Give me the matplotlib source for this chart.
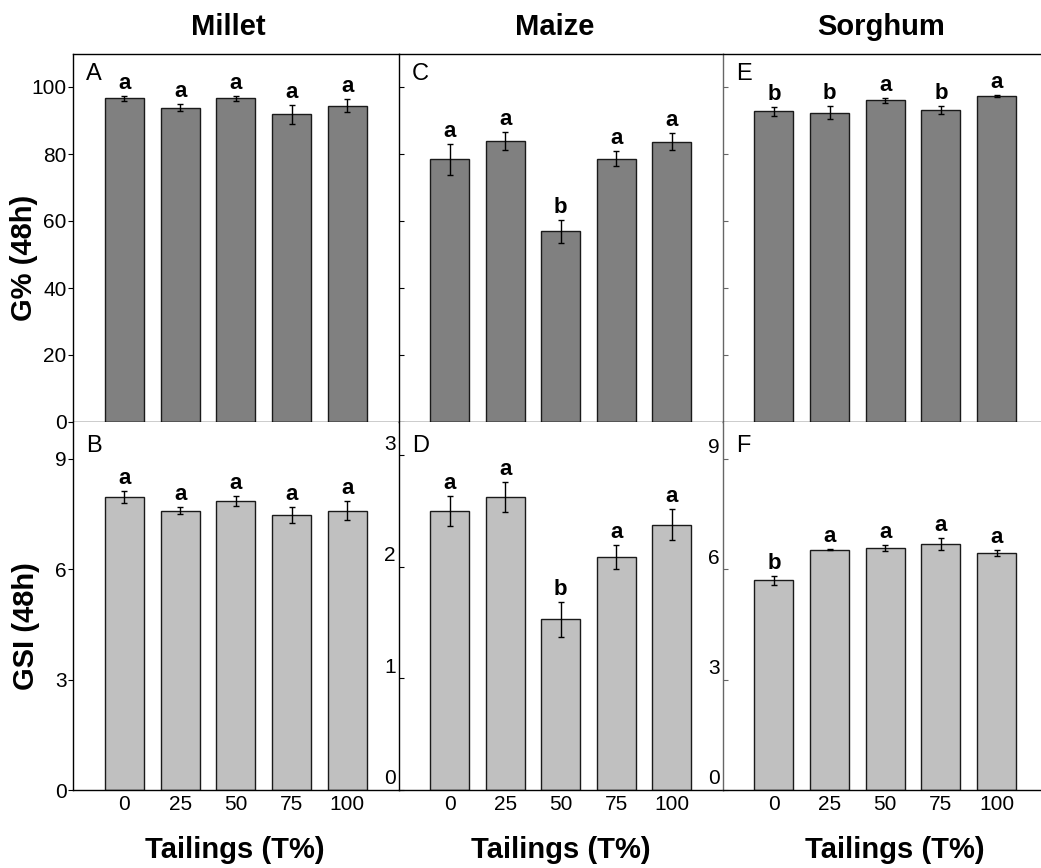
import matplotlib
matplotlib.use("Agg")
import matplotlib.pyplot as plt
from matplotlib.transforms import ScaledTranslation

plt.rcParams['font.family'] = ['Liberation Sans', 'DejaVu Sans']

# ---------------- data ----------------
tailings = ['0', '25', '50', '75', '100']
crops = ['Millet', 'Maize', 'Sorghum']
panel_letters_top = ['A', 'C', 'E']
panel_letters_bot = ['B', 'D', 'F']

g_millet = [96.6, 93.8, 96.6, 91.9, 94.4]
g_millet_err = [0.7, 1.0, 0.7, 2.8, 1.9]
g_millet_sig = ['a', 'a', 'a', 'a', 'a']

g_maize = [78.4, 84.0, 56.9, 78.6, 83.7]
g_maize_err = [4.7, 2.7, 3.5, 2.3, 2.6]
g_maize_sig = ['a', 'a', 'b', 'a', 'a']

g_sorghum = [92.8, 92.3, 96.0, 93.2, 97.3]
g_sorghum_err = [1.35, 1.9, 0.8, 1.2, 0.3]
g_sorghum_sig = ['b', 'b', 'a', 'b', 'a']

gsi_millet = [7.96, 7.59, 7.85, 7.47, 7.59]
gsi_millet_err = [0.16, 0.10, 0.13, 0.21, 0.25]
gsi_millet_sig = ['a', 'a', 'a', 'a', 'a']

gsi_maize = [2.50, 2.63, 1.53, 2.09, 2.38]
gsi_maize_err = [0.134, 0.134, 0.16, 0.11, 0.14]
gsi_maize_sig = ['a', 'a', 'b', 'a', 'a']

gsi_sorghum = [5.70, 6.53, 6.57, 6.69, 6.45]
gsi_sorghum_err = [0.12, 0.02, 0.08, 0.17, 0.08]
gsi_sorghum_sig = ['b', 'a', 'a', 'a', 'a']

top_data = [(g_millet, g_millet_err, g_millet_sig),
            (g_maize, g_maize_err, g_maize_sig),
            (g_sorghum, g_sorghum_err, g_sorghum_sig)]
bot_data = [(gsi_millet, gsi_millet_err, gsi_millet_sig),
            (gsi_maize, gsi_maize_err, gsi_maize_sig),
            (gsi_sorghum, gsi_sorghum_err, gsi_sorghum_sig)]

top_ylim = [110, 110, 110]
bot_ylim = [10, 3.3, 10]
top_ticks = [0, 20, 40, 60, 80, 100]
bot_ticks = [[0, 3, 6, 9], [0, 1, 2, 3], [0, 3, 6, 9]]

# ---------------- layout ----------------
W, H = 1041, 868
fig = plt.figure(figsize=(W / 100, H / 100), dpi=100)

col_left = [73, 398.7, 722.7]
col_w = [325.7, 324.0, 325.0]
top_y0, top_y1 = 53.5, 422
bot_y0, bot_y1 = 422, 790
title_x = [228, 555, 881]
xlabel_x = [235, 561, 895]

spine_col = ['black', 'black', '#666666']


def px_rect(x0, y0, w, y1):
    return [x0 / W, 1 - y1 / H, w / W, (y1 - y0) / H]


x = list(range(len(tailings)))

for c in range(3):
    for row in range(2):
        if row == 0:
            ax = fig.add_axes(px_rect(col_left[c], top_y0, col_w[c], top_y1))
            vals, errs, sig = top_data[c]
            color = '#808080'
            ax.set_ylim(0, top_ylim[c])
            ax.set_yticks(top_ticks)
            letter = panel_letters_top[c]
            let_off = -27
        else:
            ax = fig.add_axes(px_rect(col_left[c], bot_y0, col_w[c], bot_y1))
            vals, errs, sig = bot_data[c]
            color = '#c0c0c0'
            ax.set_ylim(0, bot_ylim[c])
            ax.set_yticks(bot_ticks[c])
            letter = panel_letters_bot[c]
            let_off = -30

        ax.bar(x, vals, width=0.7, color=color, edgecolor='#1a1a1a',
               linewidth=1.0, zorder=2)
        ax.errorbar(x, vals, yerr=errs, fmt='none', ecolor='black',
                    elinewidth=1.0, capsize=2.4, capthick=1.0, zorder=3)
        for xi, v, e, s in zip(x, vals, errs, sig):
            ax.annotate(s, xy=(xi, v + e), xytext=(0, 7),
                        textcoords='offset pixels', ha='center',
                        va='baseline', fontsize=16, fontweight='bold')

        ax.annotate(letter, xy=(0, 1), xycoords='axes fraction',
                    xytext=(13, let_off), textcoords='offset pixels',
                    ha='left', va='baseline', fontsize=17)

        ax.set_xlim(-0.92, 4.92)
        ax.spines['right'].set_visible(False)
        if row == 1:
            ax.spines['top'].set_visible(False)
        for sp in ['left', 'top', 'bottom']:
            ax.spines[sp].set_linewidth(1.0)
        ax.spines['left'].set_color(spine_col[c])

        # x axis
        if row == 0:
            ax.set_xticks([])
        else:
            ax.set_xticks(x)
            ax.set_xticklabels(tailings)
            ax.tick_params(axis='x', length=0, pad=3.5, labelsize=15)

        # y axis
        if c == 0:
            ax.tick_params(axis='y', direction='out', length=3.8, width=0.8,
                           pad=0.8, labelsize=15)
        else:
            ax.tick_params(axis='y', direction='in', length=3.8, width=0.8,
                           pad=2.2, labelsize=15, color=spine_col[c])
            if row == 0:
                ax.set_yticklabels([])
            else:
                off = ScaledTranslation(0, 13 / 100, fig.dpi_scale_trans)
                for lbl in ax.get_yticklabels():
                    lbl.set_transform(lbl.get_transform() + off)

        if row == 1:
            fig.text(xlabel_x[c] / W, 1 - 858 / H, 'Tailings (T%)',
                     ha='center', va='baseline', fontsize=21,
                     fontweight='bold')

    fig.text(title_x[c] / W, 1 - 35 / H, crops[c], ha='center',
             va='baseline', fontsize=21, fontweight='bold')

fig.text(24 / W, 1 - 258 / H, 'G% (48h)', rotation=90, ha='center',
         va='center', fontsize=21, fontweight='bold')
fig.text(26 / W, 1 - 626 / H, 'GSI (48h)', rotation=90, ha='center',
         va='center', fontsize=21, fontweight='bold')

fig.savefig('out.png', dpi=100)
